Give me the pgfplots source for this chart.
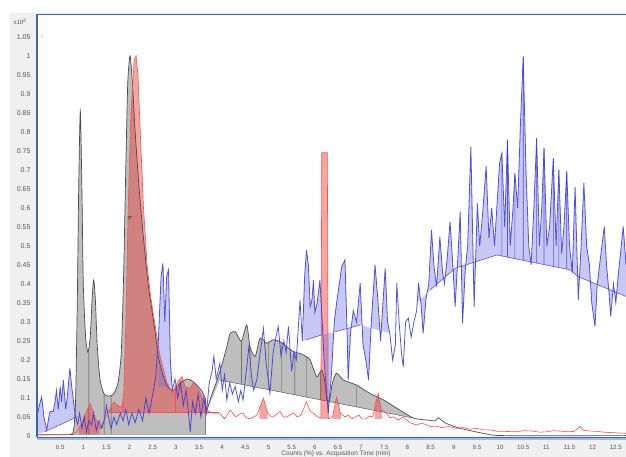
\documentclass[border=0pt]{standalone}
\usepackage{pgfplots}
\pgfplotsset{compat=1.18}
\usepgfplotslibrary{fillbetween}
\usepackage{fontspec}
\setmainfont{Liberation Sans}

\definecolor{gfill}{RGB}{190,190,190}
\definecolor{gline}{RGB}{75,75,75}
\definecolor{rline}{RGB}{250,80,80}
\definecolor{rfill}{RGB}{235,55,55}
\definecolor{bline}{RGB}{55,55,215}
\definecolor{bfill}{RGB}{110,110,230}
\definecolor{axblue}{RGB}{60,100,175}
\definecolor{panel}{RGB}{240,240,240}
\definecolor{tickc}{RGB}{85,85,85}

\begin{document}
\begin{tikzpicture}
% grey panel around the white plot area
\fill[panel, even odd rule] (10pt,0) rectangle (626pt,444pt) (37pt,19.5pt) rectangle (626pt,443pt);

\begin{axis}[
  at={(37pt,19.5pt)}, anchor=south west, scale only axis,
  width=589pt, height=423.5pt,
  xmin=0, xmax=12.72, ymin=-0.004, ymax=1.11,
  axis line style={draw=none},
  tick align=outside, xtick pos=left, ytick pos=left,
  major tick length=3pt,
  tick style={tickc, thin},
  xtick={0.5,1,1.5,2,2.5,3,3.5,4,4.5,5,5.5,6,6.5,7,7.5,8,8.5,9,9.5,10,10.5,11,11.5,12,12.5},
  xticklabels={0.5,1,1.5,2,2.5,3,3.5,4,4.5,5,5.5,6,6.5,7,7.5,8,8.5,9,9.5,10,10.5,11,11.5,12,12.5},
  ytick={0,0.05,0.1,0.15,0.2,0.25,0.3,0.35,0.4,0.45,0.5,0.55,0.6,0.65,0.7,0.75,0.8,0.85,0.9,0.95,1,1.05},
  yticklabels={0,0.05,0.1,0.15,0.2,0.25,0.3,0.35,0.4,0.45,0.5,0.55,0.6,0.65,0.7,0.75,0.8,0.85,0.9,0.95,1,1.05},
  yticklabel style={font=\fontsize{7}{8}\selectfont, text=tickc},
  xticklabel style={font=\fontsize{6.2}{7}\selectfont, text=tickc, yshift=-1pt},
]

% gray trace
\addplot[gline, line width=0.7pt, smooth, tension=0.4, name path=gray] coordinates {
(0,0.003) (0.7,0.004) (0.78,0.01) (0.83,0.08) (0.87,0.35) (0.9,0.65) (0.935,0.855)
(0.97,0.65) (1.0,0.4) (1.05,0.26) (1.1,0.22) (1.15,0.26) (1.19,0.36) (1.224,0.41)
(1.26,0.36) (1.3,0.24) (1.36,0.15) (1.45,0.11) (1.55,0.105) (1.65,0.11) (1.75,0.14)
(1.82,0.22) (1.87,0.42) (1.92,0.72) (1.96,0.93) (2.01,1.0) (2.06,0.93) (2.12,0.8)
(2.2,0.66) (2.3,0.52) (2.4,0.4) (2.52,0.3) (2.62,0.21) (2.72,0.16) (2.82,0.13)
(2.95,0.12) (3.1,0.14) (3.25,0.15) (3.4,0.14) (3.55,0.12) (3.63,0.1) (3.67,0.07)
(3.75,0.1) (3.89,0.147) (4.0,0.19) (4.1,0.235) (4.17,0.27) (4.28,0.274) (4.35,0.26)
(4.42,0.25) (4.53,0.292) (4.6,0.235) (4.71,0.209) (4.82,0.258) (4.96,0.244)
(5.1,0.253) (5.25,0.248) (5.39,0.235) (5.54,0.222) (5.68,0.217) (5.8,0.21) (5.9,0.2)
(6.04,0.156) (6.15,0.174) (6.22,0.14) (6.26,0.095) (6.32,0.095) (6.38,0.14)
(6.47,0.165) (6.62,0.147) (6.9,0.134) (7.19,0.112) (7.48,0.095) (7.77,0.073)
(8.13,0.047) (8.42,0.042) (8.6,0.04) (8.67,0.048) (8.8,0.035) (9.14,0.02)
(9.64,0.007) (10.07,0.001) (12.72,0.001)
};
\addplot[draw=none, name path=graybase] coordinates {
(0,0.004) (3.64,0.004) (3.67,0.068) (3.95,0.147) (8.13,0.047) (12.72,0.047)
};
\addplot[gfill] fill between[of=gray and graybase, soft clip={domain=0.78:3.64}];
\addplot[gfill] fill between[of=gray and graybase, soft clip={domain=3.67:8.13}];
% gray baselines and drop lines
\addplot[gline, thin, unbounded coords=jump] coordinates {
(0.78,0.004) (3.64,0.004) (nan,nan)
(3.95,0.147) (8.13,0.047) (nan,nan)
(1.12,0.004) (1.12,0.22) (nan,nan)
(1.45,0.004) (1.45,0.11) (nan,nan)
(1.6,0.004) (1.6,0.107) (nan,nan)
(3.64,0.004) (3.64,0.1) (nan,nan)
(4.42,0.136) (4.42,0.25) (nan,nan)
(4.6,0.131) (4.6,0.235) (nan,nan)
(5.0,0.122) (5.0,0.25) (nan,nan)
(5.28,0.115) (5.28,0.247) (nan,nan)
(5.57,0.108) (5.57,0.222) (nan,nan)
(5.82,0.102) (5.82,0.208) (nan,nan)
(6.12,0.095) (6.12,0.17) (nan,nan)
(6.9,0.076) (6.9,0.134)
};

% red trace
\addplot[rline, line width=0.6pt, name path=red] coordinates {
(0,0.003) (0.7,0.004) (0.85,0.01) (0.95,0.03) (1.05,0.06) (1.15,0.086) (1.25,0.05)
(1.37,0.02) (1.48,0.05) (1.55,0.065) (1.66,0.09) (1.75,0.08) (1.82,0.075) (1.87,0.1)
(1.92,0.3) (1.97,0.6) (2.03,0.85) (2.1,0.99) (2.14,1.0) (2.18,0.95) (2.23,0.8)
(2.3,0.6) (2.38,0.445) (2.45,0.37) (2.52,0.314) (2.66,0.209) (2.81,0.139) (2.9,0.12)
(2.95,0.12) (3.05,0.145) (3.13,0.156) (3.2,0.13) (3.3,0.125) (3.38,0.14) (3.5,0.12)
(3.6,0.09) (3.7,0.065) (3.8,0.06) (3.95,0.06) (4.05,0.045) (4.17,0.068) (4.3,0.05)
(4.38,0.058) (4.45,0.06) (4.52,0.048) (4.6,0.045) (4.75,0.055) (4.89,0.099)
(4.98,0.06) (5.05,0.052) (5.1,0.05) (5.18,0.058) (5.25,0.065) (5.32,0.05) (5.4,0.05)
(5.48,0.057) (5.55,0.06) (5.62,0.05) (5.7,0.055) (5.82,0.09) (5.9,0.065) (5.97,0.06)
(6.06,0.05) (6.13,0.047) (6.15,0.745) (6.27,0.745) (6.29,0.045)
(6.38,0.05) (6.47,0.103) (6.55,0.06) (6.65,0.05) (6.72,0.055) (6.8,0.045)
(6.88,0.05) (6.95,0.055) (7.02,0.045) (7.1,0.045) (7.18,0.052) (7.25,0.05)
(7.32,0.09) (7.37,0.112) (7.43,0.07) (7.55,0.06) (7.62,0.048) (7.7,0.05) (7.8,0.042)
(7.9,0.05) (8.05,0.035) (8.2,0.029) (8.3,0.034) (8.4,0.03) (8.5,0.025) (8.6,0.026)
(8.75,0.022) (8.9,0.025) (9.05,0.02) (9.2,0.022) (9.35,0.018) (9.5,0.02) (9.65,0.016)
(9.8,0.016) (9.95,0.012) (10.1,0.012) (10.36,0.011) (10.5,0.014) (10.7,0.013)
(10.85,0.01) (11.0,0.011) (11.15,0.014) (11.3,0.013) (11.45,0.011) (11.6,0.012)
(11.73,0.025) (11.8,0.015) (11.95,0.013) (12.1,0.012) (12.25,0.01) (12.4,0.009)
(12.55,0.008) (12.72,0.007)
};
\addplot[draw=none, name path=redbase] coordinates {
(0,0.004) (1.4,0.004) (1.45,0.062) (3.92,0.062) (4.0,0.045) (12.72,0.045)
};
\addplot[rfill, opacity=0.45] fill between[of=red and redbase, soft clip={domain=0.9:1.35}];
\addplot[rfill, opacity=0.45] fill between[of=red and redbase, soft clip={domain=1.55:3.92}];
\addplot[rfill, opacity=0.45] fill between[of=red and redbase, soft clip={domain=4.8:4.98}];
\addplot[rfill, opacity=0.45] fill between[of=red and redbase, soft clip={domain=6.13:6.29}];
\addplot[rfill, opacity=0.45] fill between[of=red and redbase, soft clip={domain=6.39:6.56}];
\addplot[rfill, opacity=0.45] fill between[of=red and redbase, soft clip={domain=7.29:7.45}];
\addplot[rline, line width=0.6pt, unbounded coords=jump] coordinates {
(1.55,0.062) (3.92,0.062) (nan,nan)
(2.98,0.062) (2.98,0.13) (nan,nan)
(1.87,0.062) (1.87,0.1)
};

% blue trace
\addplot[bline, line width=0.8pt, opacity=0.85, name path=blue] coordinates {
(0,0.05) (0.05,0.08) (0.1,0.103) (0.15,0.05) (0.21,0.016) (0.27,0.06) (0.3,0.065)
(0.35,0.064) (0.39,0.09) (0.42,0.12) (0.46,0.07) (0.5,0.13) (0.53,0.09) (0.57,0.147)
(0.62,0.07) (0.66,0.11) (0.71,0.178) (0.75,0.13) (0.78,0.1) (0.83,0.05) (0.88,0.03)
(0.92,0.06) (0.97,0.02) (1.02,0.05) (1.07,0.01) (1.12,0.04) (1.18,0.03) (1.22,0.06)
(1.28,0.015) (1.34,0.04) (1.4,0.02) (1.46,0.045) (1.5,0.08) (1.56,0.04) (1.6,0.02)
(1.66,0.05) (1.72,0.03) (1.8,0.06) (1.86,0.04) (1.92,0.07) (1.98,0.03) (2.05,0.06)
(2.12,0.035) (2.2,0.07) (2.28,0.04) (2.35,0.1) (2.42,0.06) (2.5,0.11) (2.56,0.15)
(2.62,0.25) (2.68,0.42) (2.72,0.454) (2.76,0.3) (2.8,0.42) (2.84,0.437) (2.88,0.2)
(2.92,0.12) (2.98,0.15) (3.04,0.1) (3.1,0.14) (3.16,0.08) (3.22,0.12) (3.28,0.05)
(3.31,0.01) (3.36,0.09) (3.42,0.06) (3.48,0.11) (3.54,0.05) (3.6,0.1) (3.66,0.06)
(3.72,0.14) (3.78,0.17) (3.82,0.209) (3.87,0.15) (3.95,0.191) (4.0,0.12) (4.05,0.16)
(4.1,0.095) (4.16,0.14) (4.22,0.11) (4.28,0.13) (4.35,0.09) (4.4,0.12) (4.45,0.095)
(4.53,0.182) (4.58,0.24) (4.63,0.16) (4.68,0.12) (4.75,0.15) (4.8,0.2) (4.89,0.283)
(4.95,0.19) (5.03,0.112) (5.1,0.22) (5.16,0.26) (5.21,0.288) (5.27,0.21) (5.33,0.25)
(5.38,0.22) (5.43,0.288) (5.5,0.17) (5.55,0.22) (5.6,0.2) (5.64,0.279) (5.68,0.358)
(5.73,0.25) (5.78,0.42) (5.82,0.489) (5.86,0.45) (5.9,0.34) (5.94,0.36) (5.97,0.41)
(6.0,0.325) (6.05,0.35) (6.11,0.41) (6.16,0.3) (6.2,0.2) (6.25,0.12) (6.29,0.06)
(6.36,0.165) (6.42,0.3) (6.47,0.35) (6.51,0.384) (6.58,0.445) (6.65,0.463) (6.69,0.3)
(6.72,0.147) (6.77,0.27) (6.83,0.33) (6.9,0.3) (6.98,0.402) (7.04,0.24) (7.1,0.2)
(7.16,0.147) (7.22,0.3) (7.3,0.45) (7.36,0.36) (7.42,0.25) (7.47,0.35) (7.52,0.441)
(7.57,0.3) (7.62,0.27) (7.68,0.2) (7.74,0.24) (7.77,0.402) (7.82,0.3) (7.87,0.22)
(7.91,0.182) (7.96,0.3) (8.02,0.31) (8.08,0.26) (8.14,0.3) (8.2,0.33) (8.24,0.402)
(8.29,0.35) (8.34,0.27) (8.4,0.36) (8.46,0.4) (8.52,0.542) (8.57,0.45) (8.63,0.393)
(8.7,0.524) (8.76,0.43) (8.8,0.4) (8.86,0.47) (8.92,0.564) (8.98,0.45) (9.03,0.34)
(9.08,0.45) (9.14,0.59) (9.19,0.296) (9.25,0.44) (9.3,0.5) (9.37,0.761) (9.44,0.34)
(9.51,0.612) (9.56,0.5) (9.62,0.58) (9.7,0.709) (9.76,0.52) (9.82,0.6) (9.88,0.5)
(9.94,0.62) (9.99,0.718) (10.04,0.744) (10.1,0.55) (10.16,0.779) (10.22,0.5)
(10.28,0.6) (10.32,0.691) (10.38,0.6) (10.44,0.82) (10.5,0.998) (10.56,0.7)
(10.62,0.5) (10.67,0.45) (10.73,0.6) (10.79,0.783) (10.85,0.5) (10.9,0.6)
(10.95,0.757) (11.01,0.5) (11.07,0.55) (11.15,0.731) (11.21,0.5) (11.27,0.7)
(11.33,0.48) (11.38,0.55) (11.44,0.696) (11.5,0.5) (11.56,0.43) (11.62,0.656)
(11.69,0.358) (11.75,0.5) (11.81,0.665) (11.87,0.5) (11.93,0.45) (11.98,0.35)
(12.05,0.288) (12.1,0.4) (12.15,0.45) (12.2,0.5) (12.25,0.551) (12.3,0.45)
(12.35,0.38) (12.39,0.314) (12.45,0.4) (12.5,0.35) (12.55,0.42) (12.6,0.48)
(12.66,0.551) (12.72,0.45)
};
\addplot[draw=none, name path=bluebase] coordinates {
(0,0.005) (0.17,0.011) (0.86,0.05) (2.6,0.13) (2.9,0.13) (5.75,0.25) (6.15,0.266)
(6.44,0.274) (6.98,0.292) (7.62,0.27) (8.2,0.35) (8.49,0.384) (9.03,0.441)
(9.93,0.476) (11.51,0.437) (11.69,0.419) (12.72,0.367)
};
\addplot[bfill, opacity=0.38] fill between[of=blue and bluebase, soft clip={domain=0:0.86}];
\addplot[bfill, opacity=0.38] fill between[of=blue and bluebase, soft clip={domain=2.62:2.9}];
\addplot[bfill, opacity=0.38] fill between[of=blue and bluebase, soft clip={domain=5.75:7.62}];
\addplot[bfill, opacity=0.38] fill between[of=blue and bluebase, soft clip={domain=8.2:12.72}];
\addplot[bline, line width=0.6pt, opacity=0.8, unbounded coords=jump] coordinates {
(0.17,0.011) (0.86,0.05) (nan,nan)
(5.82,0.253) (6.15,0.266) (nan,nan)
(6.44,0.274) (6.98,0.292) (nan,nan)
(8.49,0.384) (9.03,0.441) (9.93,0.476) (11.51,0.437) (11.69,0.419) (12.72,0.367) (nan,nan)
(10.04,0.473) (10.04,0.744) (nan,nan)
(10.16,0.47) (10.16,0.779) (nan,nan)
(10.32,0.466) (10.32,0.691) (nan,nan)
(10.5,0.462) (10.5,0.998) (nan,nan)
(10.79,0.455) (10.79,0.783) (nan,nan)
(10.95,0.451) (10.95,0.757) (nan,nan)
(11.15,0.446) (11.15,0.731) (nan,nan)
(11.27,0.443) (11.27,0.7) (nan,nan)
(11.44,0.439) (11.44,0.696)
};

% peak apex marker
\addplot[only marks, mark=triangle, mark size=2pt, mark options={rotate=180, gline, thin}] coordinates {(2.0,0.575)};
\end{axis}

% frame
\draw[axblue, line width=1.2pt] (current axis.south west) -- (current axis.north west);
\draw[axblue, line width=0.8pt] (current axis.north west) -- (current axis.north east);
\draw[axblue!45, line width=2.5pt] ([yshift=-1.5pt]current axis.south west) -- ([yshift=-1.5pt]current axis.south east);
\draw[axblue, line width=0.9pt] (current axis.south west) -- (current axis.south east);

\node[font=\fontsize{6}{7}\selectfont, text=tickc] at (20pt,435pt) {x10\textsuperscript{2}};
\node[font=\fontsize{5}{6}\selectfont, text=gray!60] at (42pt,420pt) {1};
\node[font=\fontsize{6.5}{7}\selectfont, text=tickc] at (336pt,3pt) {Counts (\%) vs. Acquisition Time (min)};
\pgfresetboundingbox
\useasboundingbox (0,0) rectangle (626pt,457pt);
\end{tikzpicture}
\end{document}
